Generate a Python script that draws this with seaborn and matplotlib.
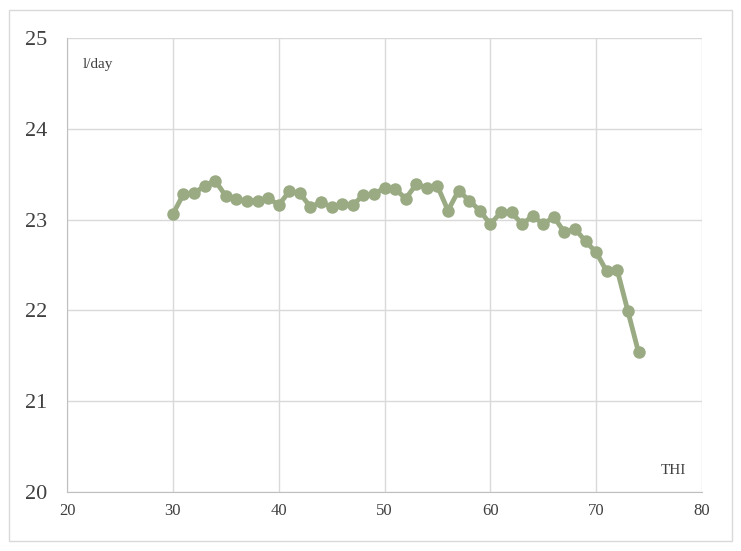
import numpy as np
import pandas as pd
import matplotlib
matplotlib.use('Agg')
import matplotlib.pyplot as plt
import seaborn as sns

thi = list(range(30, 75))
water = [23.06, 23.28, 23.29, 23.37, 23.43, 23.26, 23.23, 23.20, 23.21, 23.24,
         23.16, 23.31, 23.29, 23.14, 23.19, 23.14, 23.17, 23.16, 23.27, 23.28,
         23.35, 23.34, 23.23, 23.39, 23.35, 23.37, 23.10, 23.32, 23.21, 23.10,
         22.95, 23.08, 23.08, 22.95, 23.04, 22.95, 23.03, 22.86, 22.90, 22.76,
         22.64, 22.43, 22.44, 21.99, 21.54]
df = pd.DataFrame({'THI': thi, 'water': water})

sns.set_style('white')
plt.rcParams['font.family'] = ['Liberation Serif', 'DejaVu Serif']

fig = plt.figure(figsize=(7.41, 5.51), dpi=100)
ax = fig.add_axes([67 / 741, 1 - 492 / 551, (702 - 67) / 741, (492 - 38) / 551])
sns.lineplot(data=df, x='THI', y='water', ax=ax, color='#9aab84', lw=3.5,
             marker='o', markersize=9, markeredgewidth=0)

ax.set_xlim(20, 80)
ax.set_ylim(20, 25)
ax.set_xticks(range(20, 81, 10))
ax.set_yticks(range(20, 26))
ax.grid(True, color='#d9d9d9', lw=1)
ax.tick_params(axis='x', labelsize=12, colors='#404040', length=0, pad=8)
ax.tick_params(axis='y', labelsize=16, colors='#404040', length=0, pad=14)
for s in ['top', 'right']:
    ax.spines[s].set_visible(False)
for s in ['left', 'bottom']:
    ax.spines[s].set_color('#bfbfbf')
ax.set_xlabel('')
ax.set_ylabel('')
ax.text(0.025, 0.955, 'l/day', transform=ax.transAxes, fontsize=11, color='#404040', va='top')
ax.text(0.975, 0.04, 'THI', transform=ax.transAxes, fontsize=11, color='#404040', ha='right')

fig.patches.append(plt.Rectangle((0.012, 0.018), 0.976, 0.964, transform=fig.transFigure,
                                 fill=False, edgecolor='#d9d9d9', lw=1))
fig.savefig('out.png', dpi=100)
